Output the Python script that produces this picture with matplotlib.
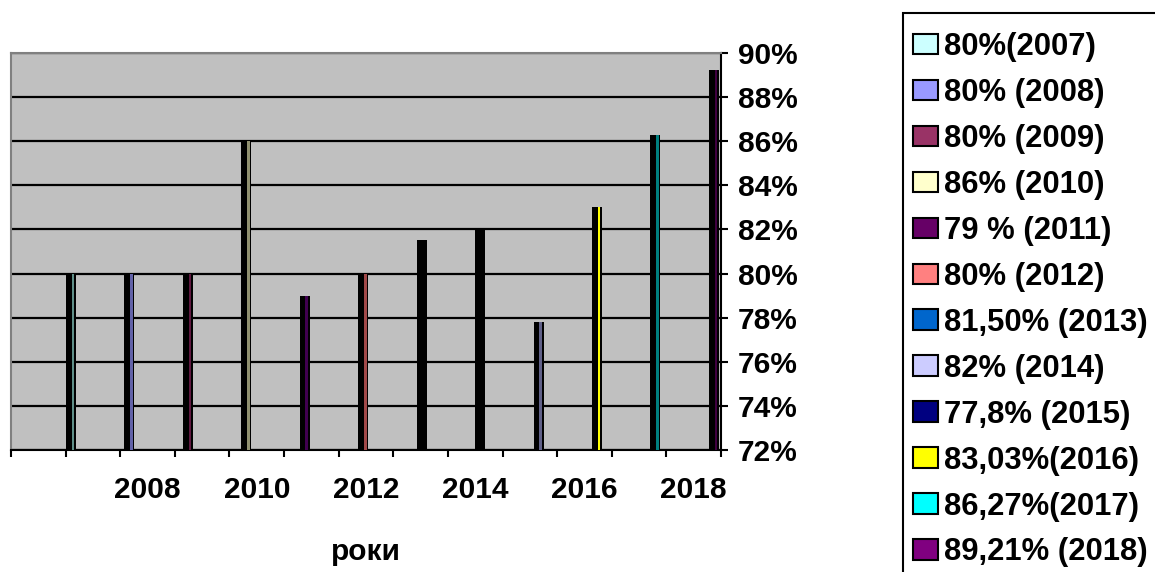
import numpy as np
import matplotlib
matplotlib.use("Agg")
import matplotlib.pyplot as plt
from matplotlib.patches import Patch, Rectangle
from matplotlib.ticker import FuncFormatter

# ---------------- data ----------------
years = [2007, 2008, 2009, 2010, 2011, 2012, 2013, 2014, 2015, 2016, 2017, 2018]
values = [80, 80, 80, 86, 79, 80, 81.5, 82, 77.8, 83.03, 86.27, 89.21]
legend_labels = ["80%(2007)", "80% (2008)", "80% (2009)", "86% (2010)",
                 "79 % (2011)", "80% (2012)", "81,50% (2013)", "82% (2014)",
                 "77,8% (2015)", "83,03%(2016)", "86,27%(2017)", "89,21% (2018)"]
legend_colors = ["#ccffff", "#9999ff", "#993366", "#ffffcc", "#660066", "#ff8080",
                 "#0066cc", "#ccccff", "#000080", "#ffff00", "#00ffff", "#800080"]
bar_colors = ["#5f8f88", "#6262a8", "#601840", "#909070", "#400050", "#a04848",
              "#000000", "#000000", "#606088", "#ffff00", "#008080", "#400040"]
axis_categories = ["", "", "2008", "", "2010", "", "2012", "", "2014", "", "2016", "", "2018"]
y_ticks = [72, 74, 76, 78, 80, 82, 84, 86, 88, 90]
x_title = "роки"

# ---------------- style ----------------
FONT = "Liberation Sans"
FS = 21.5
LEG_FS = 22.3
W, H = 1155, 572
fig = plt.figure(figsize=(W / 100, H / 100), dpi=100)
L, R, T, B = 11, 721, 53, 450
ax = fig.add_axes([L / W, 1 - B / H, (R - L) / W, (B - T) / H])
ax.set_facecolor("#c0c0c0")

# bars: positions by index; px per bar step ~58.45
step_px = 58.45
x = np.arange(len(values))
px = 1.0 / step_px
ax.bar(x, values, width=10 * px, color="black", zorder=3, linewidth=0)
ax.bar(x + 2.0 * px, values, width=2.7 * px, color=bar_colors, zorder=4, linewidth=0)
ax.set_xlim(-60 / step_px, 650 / step_px)
ax.set_ylim(y_ticks[0], y_ticks[-1])
ax.set_xticks([])

# y-axis on right
ax.yaxis.tick_right()
ax.set_yticks(y_ticks)
ax.yaxis.set_major_formatter(FuncFormatter(lambda v, p: f"{int(v)}%"))
ax.tick_params(axis="y", length=5, width=1.5, pad=7, colors="black")
for lab in ax.get_yticklabels():
    lab.set_fontfamily(FONT)
    lab.set_fontweight("bold")
    lab.set_fontsize(FS)
ax.yaxis.grid(True, color="black", linewidth=1.6)
ax.set_axisbelow(True)

ax.spines["left"].set_color("#808080")
ax.spines["top"].set_color("#808080")
ax.spines["left"].set_linewidth(1.5)
ax.spines["top"].set_linewidth(1.5)
ax.spines["right"].set_color("black")
ax.spines["right"].set_linewidth(1.5)
ax.spines["bottom"].set_color("black")
ax.spines["bottom"].set_linewidth(1.5)

# category axis (ticks / labels)
ax2 = ax.twiny()
ax2.set_xlim(0, len(axis_categories))
ax2.xaxis.set_ticks_position("bottom")
ax2.xaxis.set_label_position("bottom")
for s in ax2.spines.values():
    s.set_visible(False)
ax2.set_xticks(np.arange(len(axis_categories) + 1))
ax2.set_xticklabels([])
ax2.set_xticks(np.arange(len(axis_categories)) + 0.5, minor=True)
ax2.set_xticklabels(axis_categories, minor=True, fontfamily=FONT,
                    fontweight="bold", fontsize=FS)
ax2.tick_params(axis="x", which="major", length=5, width=1.5, direction="out")
ax2.tick_params(axis="x", which="minor", length=0, pad=19)
ax2.set_xlabel(x_title, fontfamily=FONT, fontweight="bold", fontsize=FS, labelpad=24)

# legend frame (extends beyond the figure edge, as in the reference)
fig.patches.append(Rectangle((903 / W, -0.05), 0.4, 1 - 13 / H + 0.05,
                             transform=fig.transFigure, facecolor="white",
                             edgecolor="black", linewidth=1.5, zorder=0))

# legend entries
handles = [Patch(facecolor=c, edgecolor="black", linewidth=1.5) for c in legend_colors]
leg = fig.legend(handles, legend_labels, loc="upper left",
                 bbox_to_anchor=(913 / W, 1 - 32 / H), bbox_transform=fig.transFigure,
                 frameon=False, borderpad=0, borderaxespad=0,
                 handlelength=0.8, handleheight=0.65,
                 handletextpad=0.2, labelspacing=0.515,
                 prop={"family": FONT, "weight": "bold", "size": LEG_FS})

fig.savefig("out.png", dpi=100)
